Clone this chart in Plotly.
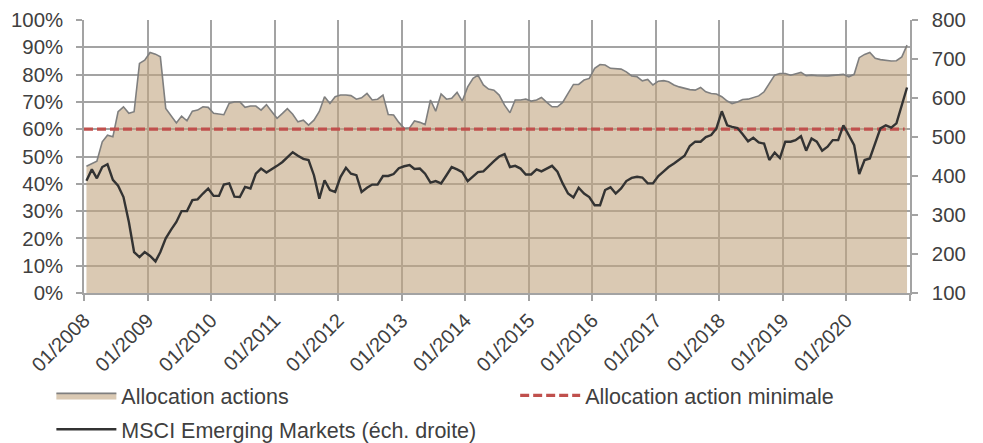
import plotly.graph_objects as go

# ---------------- data (monthly, 01/2008 .. 12/2020) ----------------
start_year = 2008
allocation_actions = [
    46.4, 47.4, 48.3, 55.4, 57.8, 57.2, 66.4, 68.2, 65.8, 66.4, 84.1, 85.3,
    88.1, 87.5, 86.5, 67.6, 65.2, 62.3, 64.8, 63.1, 66.6, 67.0, 68.2, 68.0,
    65.8, 65.6, 65.3, 69.5, 70.0, 70.0, 68.0, 68.5, 68.5, 67.0, 69.0, 66.5,
    64.0, 65.8, 67.5, 65.5, 62.7, 63.3, 61.5, 63.3, 66.5, 71.9, 69.4, 71.9,
    72.5, 72.5, 72.3, 71.0, 71.5, 73.1, 70.7, 71.0, 72.5, 65.4, 65.2, 62.5,
    60.3, 60.5, 63.0, 62.5, 61.7, 70.7, 66.6, 72.9, 71.0, 71.3, 73.5, 70.3,
    75.5, 78.6, 79.8, 76.2, 74.7, 74.3, 72.5, 68.8, 66.0, 70.7, 70.7, 71.0,
    70.3, 70.7, 71.6, 69.8, 68.2, 68.2, 69.8, 73.1, 76.4, 76.4, 78.0, 78.6,
    82.3, 83.7, 83.5, 82.3, 82.2, 82.0, 81.0, 79.5, 79.2, 77.7, 78.2, 76.2,
    77.6, 77.8, 77.4, 76.2, 75.5, 74.9, 74.5, 74.3, 75.3, 73.7, 73.1, 72.9,
    71.9, 70.3, 69.4, 70.0, 70.9, 71.0, 71.5, 72.2, 73.7, 76.8, 79.8, 80.4,
    80.4, 79.8, 80.4, 80.8, 79.6, 79.8, 79.6, 79.5, 79.5, 79.7, 79.9, 80.1,
    79.2, 80.1, 86.2, 87.4, 88.1, 86.0, 85.5, 85.2, 85.0, 85.1, 86.5, 90.8,
]
msci_em = [
    388, 417, 394, 423, 430, 390, 375, 346, 282, 205, 192, 205,
    195, 181, 205, 240, 262, 282, 310, 310, 338, 340, 355, 368,
    349, 349, 378, 381, 347, 346, 372, 368, 406, 419, 409, 417,
    426, 436, 449, 461, 452, 444, 441, 402, 342, 389, 364, 359,
    398, 421, 406, 402, 359, 370, 378, 378, 400, 400, 405, 420,
    425, 428, 418, 419, 406, 383, 387, 381, 402, 423, 417, 410,
    387, 398, 410, 412, 426, 438, 450, 456, 423, 426, 419, 404,
    404, 417, 412, 419, 426, 411, 381, 355, 345, 370, 355, 346,
    325, 325, 364, 371, 355, 368, 387, 395, 398, 396, 381, 381,
    400, 412, 423, 432, 443, 452, 477, 488, 488, 500, 505, 522,
    566, 530, 526, 523, 507, 489, 498, 486, 483, 441, 460, 446,
    488, 488, 492, 502, 465, 496, 488, 465, 475, 492, 492, 530,
    505, 479, 405, 441, 445, 484, 522, 530, 524, 535, 582, 627,
]
min_allocation = 60
tick_years = list(range(2008, 2022))
tick_labels = [f"01/{y}" for y in range(2008, 2021)] + [""]

n = len(allocation_actions)
dates = [f"{start_year + i // 12}-{i % 12 + 1:02d}-15" for i in range(n)]
min_dates = [f"{start_year}-01-01", f"{start_year + (n - 1) // 12}-{(n - 1) % 12 + 1:02d}-01"]

FONT = "Liberation Sans, Arial, sans-serif"
TXT = "#404040"
GRID = "#a3a3a3"

fig = go.Figure()
fig.add_trace(go.Scatter(
    x=dates, y=allocation_actions, name="Allocation actions",
    mode="lines", fill="tozeroy", legend="legend", legendgroup="a",
    line=dict(color="#7f7f7f", width=1.6),
    fillcolor="rgba(193,165,128,0.6)",
))
fig.add_trace(go.Scatter(
    x=min_dates, y=[min_allocation, min_allocation], name="Allocation action minimale",
    mode="lines", legend="legend2",
    line=dict(color="#c0504d", width=3.2, dash="9px,4px"),
))
fig.add_trace(go.Scatter(
    x=dates, y=msci_em, name="MSCI Emerging Markets (éch. droite)",
    mode="lines", yaxis="y2", legend="legend", legendgroup="c",
    line=dict(color="#333333", width=2.4),
))

leg_common = dict(
    orientation="v", yanchor="top", xanchor="left",
    font=dict(size=21.5, color=TXT, family=FONT), itemwidth=60,
    bgcolor="rgba(0,0,0,0)", itemclick=False, borderwidth=0,
)

fig.update_layout(
    width=975, height=435,
    margin=dict(l=76, r=73, t=12, b=150, autoexpand=False),
    paper_bgcolor="white", plot_bgcolor="white",
    font=dict(family=FONT, size=20, color=TXT),
    showlegend=True,
    legend=dict(x=-0.0395, y=-0.30, traceorder="grouped", tracegroupgap=3, **leg_common),
    legend2=dict(x=0.522, y=-0.30, **leg_common),
    xaxis=dict(
        type="date", range=["2008-01-01", "2021-01-01"],
        tickvals=[f"{y}-01-01" for y in tick_years], ticktext=tick_labels,
        tickangle=-45, showgrid=True, gridcolor=GRID, gridwidth=1.5,
        showline=True, linecolor=GRID, linewidth=1.5,
        ticks="outside", ticklen=6, tickcolor=GRID, tickwidth=1.5,
        tickfont=dict(size=20, color=TXT), automargin=False, zeroline=False,
    ),
    yaxis=dict(
        range=[0, 100], dtick=10, ticksuffix="%",
        showgrid=True, gridcolor=GRID, gridwidth=1.5,
        showline=True, linecolor=GRID, linewidth=1.5,
        ticks="outside", ticklen=6, tickcolor=GRID, tickwidth=1.5,
        ticklabelstandoff=9,
        tickfont=dict(size=20.4, color=TXT), automargin=False, zeroline=False,
    ),
    yaxis2=dict(
        overlaying="y", side="right", range=[100, 800], dtick=100,
        showgrid=False, showline=True, linecolor=GRID, linewidth=1.5,
        ticks="outside", ticklen=6, tickcolor=GRID, tickwidth=1.5,
        ticklabelstandoff=10,
        tickfont=dict(size=20.4, color=TXT), automargin=False, zeroline=False,
    ),
)

fig.write_html("out.html")
